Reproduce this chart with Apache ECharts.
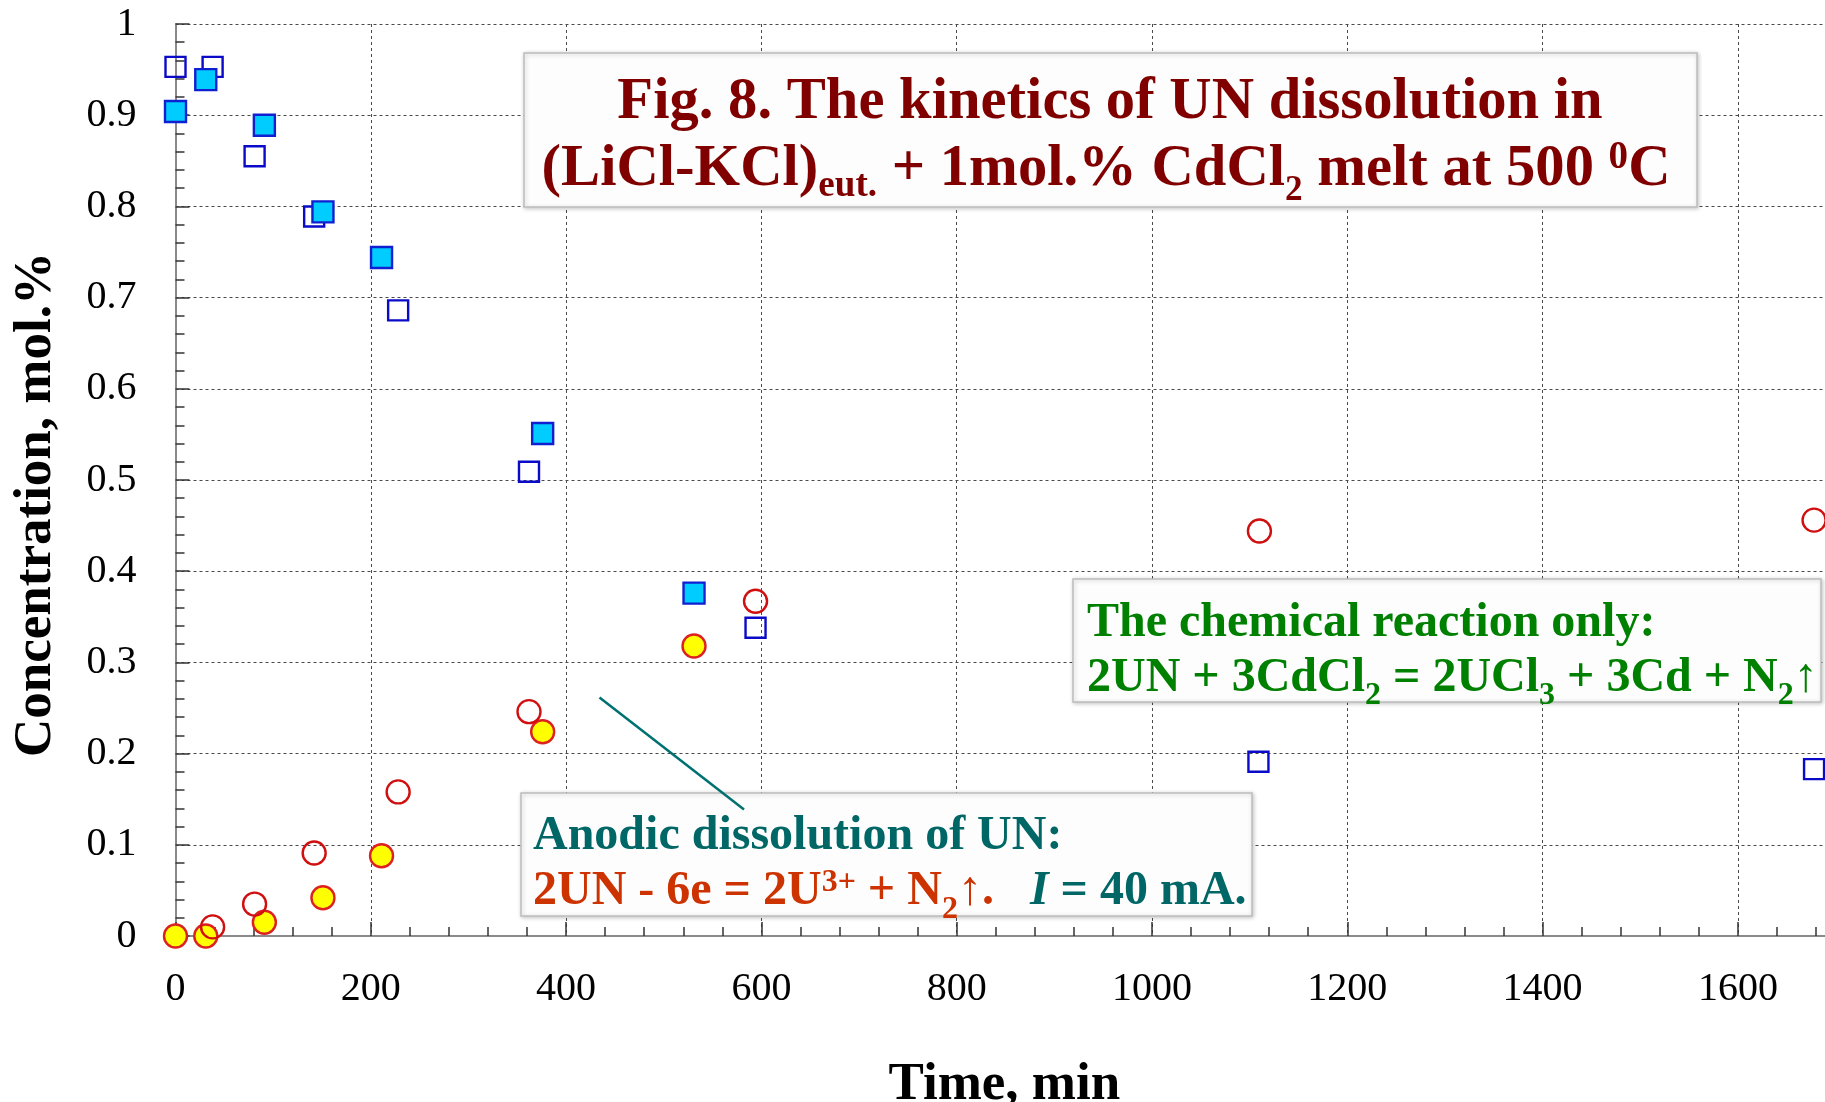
<!DOCTYPE html>
<html>
<head>
<meta charset="utf-8">
<script src="https://cdn.jsdelivr.net/npm/echarts@6/dist/echarts.min.js"></script>
<style>
html,body{margin:0;padding:0;background:#fff;}
#chart{width:1825px;height:1102px;}
</style>
</head>
<body>
<div id="chart"></div>
<script>
// ---- data (time in min, concentration in mol.%) ----
const timeOpenSquares   = [0, 38, 81, 142, 228, 362, 594, 1109, 1678];
const concOpenSquares   = [0.953, 0.953, 0.855, 0.789, 0.686, 0.509, 0.338, 0.191, 0.183];

const timeFilledSquares = [0, 31, 91, 151, 211, 376, 531];
const concFilledSquares = [0.904, 0.939, 0.889, 0.794, 0.744, 0.551, 0.376];

const timeOpenCircles   = [38, 81, 142, 228, 362, 594, 1110, 1678];
const concOpenCircles   = [0.010, 0.035, 0.091, 0.158, 0.246, 0.367, 0.444, 0.456];

const timeFilledCircles = [0, 31, 91, 151, 211, 376, 531];
const concFilledCircles = [0.000, 0.000, 0.015, 0.042, 0.088, 0.224, 0.318];

const xTickLabels = ['0', '200', '400', '600', '800', '1000', '1200', '1400', '1600'];
const yTickLabels = ['0', '0.1', '0.2', '0.3', '0.4', '0.5', '0.6', '0.7', '0.8', '0.9', '1'];

const xAxisTitle = 'Time, min';
const yAxisTitle = 'Concentration, mol.%';

// ---- helpers ----
function pairs(xs, ys) { return xs.map((x, i) => [x, ys[i]]); }
const SERIF = '"Liberation Serif","Times New Roman",serif';

const chart = echarts.init(document.getElementById('chart'), null, {renderer: 'canvas'});

const gridStyle = {color: '#4a4a4a', width: 1, type: [3, 3]};
const tickStyle = {color: '#333', width: 1.5};

const option = {
  animation: false,
  backgroundColor: '#ffffff',
  grid: {left: 175.5, top: 24, width: 1757.7, height: 912, containLabel: false, outerBoundsMode: 'none'},
  xAxis: {
    type: 'value', min: 0, max: 1800, interval: 200,
    name: xAxisTitle, nameLocation: 'middle', nameGap: 123,
    nameTextStyle: {fontFamily: SERIF, fontWeight: 'bold', fontSize: 53, color: '#000', padding: [0, 100, 0, 0]},
    axisLine: {show: true, onZero: false, lineStyle: {color: '#8a8a8a', width: 2}},
    axisTick: {show: true, inside: true, length: 14, lineStyle: tickStyle},
    minorTick: {show: true, splitNumber: 5, length: 9, lineStyle: tickStyle},
    splitLine: {show: true, lineStyle: gridStyle},
    axisLabel: {
      margin: 33, fontFamily: SERIF, fontSize: 40, color: '#000',
      formatter: v => (xTickLabels.includes(String(v)) ? String(v) : '')
    }
  },
  yAxis: {
    type: 'value', min: 0, max: 1, interval: 0.1,
    name: yAxisTitle, nameLocation: 'middle', nameGap: 113,
    nameTextStyle: {fontFamily: SERIF, fontWeight: 'bold', fontSize: 53, color: '#000', padding: [0, 49, 0, 0]},
    axisLine: {show: true, onZero: false, lineStyle: {color: '#8a8a8a', width: 2}},
    axisTick: {show: true, inside: true, length: 14, lineStyle: tickStyle},
    minorTick: {show: true, splitNumber: 5, length: 9, lineStyle: tickStyle},
    splitLine: {show: true, lineStyle: gridStyle},
    axisLabel: {
      margin: 39, fontFamily: SERIF, fontSize: 40, color: '#000',
      formatter: v => { const s = String(+(+v).toFixed(2)); return yTickLabels.includes(s) ? s : ''; }
    }
  },
  series: [
    {
      name: 'open squares', type: 'scatter', symbol: 'rect', symbolSize: 20,
      data: pairs(timeOpenSquares, concOpenSquares),
      itemStyle: {color: 'rgba(255,255,255,0)', borderColor: '#0a0ac8', borderWidth: 2.4, opacity: 1}
    },
    {
      name: 'filled squares', type: 'scatter', symbol: 'rect', symbolSize: 21,
      data: pairs(timeFilledSquares, concFilledSquares),
      itemStyle: {color: '#00ccff', borderColor: '#1020d0', borderWidth: 2.4, opacity: 1}
    },
    {
      name: 'filled circles', type: 'scatter', symbol: 'circle', symbolSize: 23,
      data: pairs(timeFilledCircles, concFilledCircles),
      itemStyle: {color: '#ffff00', borderColor: '#dd2020', borderWidth: 2.4, opacity: 1}
    },
    {
      name: 'open circles', type: 'scatter', symbol: 'circle', symbolSize: 23,
      data: pairs(timeOpenCircles, concOpenCircles),
      itemStyle: {color: 'rgba(255,255,255,0)', borderColor: '#d01010', borderWidth: 2.4, opacity: 1}
    }
  ],
  graphic: [
    // Title box
    {type: 'rect', z: 100, shape: {x: 524, y: 53, width: 1173, height: 154},
     style: {fill: '#fdfdfd', stroke: '#bdbdbd', lineWidth: 1.5, shadowBlur: 4, shadowColor: 'rgba(0,0,0,0.22)', shadowOffsetX: 1, shadowOffsetY: 1}},
    {type: 'text', z: 101, x: 1110, y: 102.5, scaleX: 0.977,
     style: {text: 'Fig. 8. The kinetics of UN dissolution in', font: 'bold 60px ' + SERIF, fill: '#800000',
             align: 'center', verticalAlign: 'middle', lineHeight: 72}},
    {type: 'text', z: 101, x: 1106, y: 169, scaleX: 0.977,
     style: {text: '(LiCl-KCl){sub|eut.} + 1mol.% CdCl{sub2|2} melt at 500 {sup|0}C', font: 'bold 60px ' + SERIF, fill: '#800000',
             align: 'center', verticalAlign: 'middle', lineHeight: 72,
             rich: {
               sub:  {font: 'bold 38px ' + SERIF, fill: '#800000', padding: [35, 0, 0, 0]},
               sub2: {font: 'bold 36px ' + SERIF, fill: '#800000', padding: [44, 0, 0, 0]},
               sup:  {font: 'bold 40px ' + SERIF, fill: '#800000', padding: [0, 0, 22, 0]}
             }}},

    // Chemical reaction box
    {type: 'rect', z: 100, shape: {x: 1073, y: 579, width: 748, height: 123},
     style: {fill: '#fdfdfd', stroke: '#bdbdbd', lineWidth: 1.5, shadowBlur: 4, shadowColor: 'rgba(0,0,0,0.22)', shadowOffsetX: 1, shadowOffsetY: 1}},
    {type: 'text', z: 101, x: 1087, y: 623.5,
     style: {text: 'The chemical reaction only:', font: 'bold 48px ' + SERIF, fill: '#008000',
             align: 'left', verticalAlign: 'middle', lineHeight: 60}},
    {type: 'text', z: 101, x: 1087, y: 678.5,
     style: {text: '2UN + 3CdCl{sub|2} = 2UCl{sub|3} + 3Cd + N{sub|2}\u2191', font: 'bold 48px ' + SERIF, fill: '#008000',
             align: 'left', verticalAlign: 'middle', lineHeight: 60,
             rich: {sub: {font: 'bold 32px ' + SERIF, fill: '#008000', padding: [34, 0, 0, 0]}}}},

    // Anodic dissolution box + leader line
    {type: 'rect', z: 100, shape: {x: 521, y: 793, width: 731, height: 123},
     style: {fill: '#fdfdfd', stroke: '#bdbdbd', lineWidth: 1.5, shadowBlur: 4, shadowColor: 'rgba(0,0,0,0.22)', shadowOffsetX: 1, shadowOffsetY: 1}},
    {type: 'line', z: 102, shape: {x1: 599.5, y1: 697.5, x2: 744, y2: 809.5},
     style: {stroke: '#007070', lineWidth: 2.5}},
    {type: 'text', z: 101, x: 533, y: 836.5,
     style: {text: 'Anodic dissolution of UN:', font: 'bold 48px ' + SERIF, fill: '#006666',
             align: 'left', verticalAlign: 'middle', lineHeight: 60}},
    {type: 'text', z: 101, x: 533, y: 892,
     style: {text: '2UN - 6e = 2U{sup|3+} + N{sub|2}\u2191.   {it|I}{teal| = 40 mA.}', font: 'bold 48px ' + SERIF, fill: '#cc3300',
             align: 'left', verticalAlign: 'middle', lineHeight: 60,
             rich: {
               sup:  {font: 'bold 32px ' + SERIF, fill: '#cc3300', padding: [0, 0, 18, 0]},
               sub:  {font: 'bold 32px ' + SERIF, fill: '#cc3300', padding: [36, 0, 0, 0]},
               it:   {font: 'italic bold 48px ' + SERIF, fill: '#006666'},
               teal: {font: 'bold 48px ' + SERIF, fill: '#006666'}
             }}}
  ]
};

chart.setOption(option);
</script>
</body>
</html>
